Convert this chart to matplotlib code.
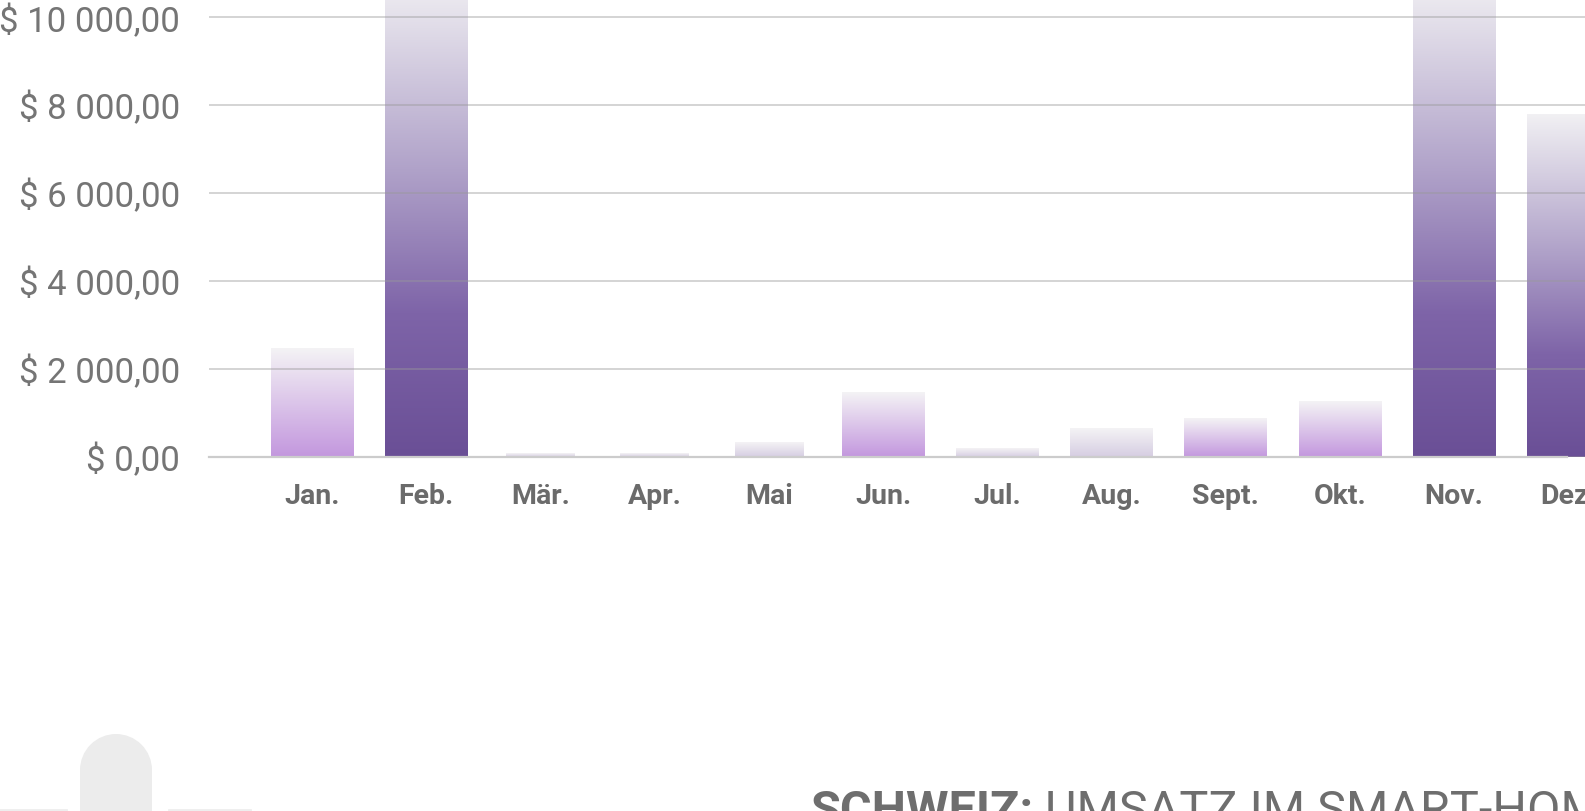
import numpy as np
import matplotlib
matplotlib.use("Agg")
import matplotlib.pyplot as plt
from matplotlib.colors import LinearSegmentedColormap
from matplotlib.patches import Rectangle, Circle

# monthly revenue (Feb / Nov run past the top)
months = ["Jan.", "Feb.", "Mär.", "Apr.", "Mai", "Jun.", "Jul.", "Aug.", "Sept.", "Okt.", "Nov.", "Dez."]
umsatz = [2470, 10900, 70, 70, 330, 1460, 200, 650, 870, 1260, 10850, 7780]
tone = ["mid", "dark", "pale", "pale", "pale", "mid", "pale", "pale", "mid", "mid", "dark", "dark"]
yticks = [0, 2000, 4000, 6000, 8000, 10000]

plt.rcParams['font.family'] = ['Roboto', 'DejaVu Sans']

W, H = 1585, 812
dpi = 100
fig = plt.figure(figsize=(W / dpi, H / dpi), dpi=dpi)

# background layer in pixel coords for the decoration + title
ov = fig.add_axes([0, 0, 1, 1], zorder=-1)
ov.set_xlim(0, W)
ov.set_ylim(H, 0)
ov.axis('off')
ov.add_patch(Rectangle((80, 771), 72, 60, color='#ececec', lw=0))
ov.add_patch(Circle((116, 771), 36, color='#ececec', lw=0))
ov.plot([0, 66], [811, 811], color='#eeeeee', lw=2)
ov.plot([169, 250], [811, 811], color='#eeeeee', lw=2)
t = ov.text(810, 825, "SCHWEIZ:", fontsize=35, fontweight='bold', color='#6e6e6e', va='baseline')
ov.annotate(" UMSATZ IM SMART-HOME", xy=(1, 0), xycoords=t, va='bottom', ha='left',
            fontsize=35, fontweight='normal', color='#6e6e6e')

ax = fig.add_axes([209 / W, (H - 458) / H, (W - 209) / W, 458 / H])
x = np.arange(len(months))
narrow = {"Mär.", "Apr.", "Mai"}
widths = [0.6 if m in narrow else 0.72 for m in months]
bars = ax.bar(x, umsatz, width=widths, color='none', edgecolor='none')

colors = {
    'dark': [(0, '#6a4f96'), (0.3, '#7e64a8'), (0.6, '#b0a2c9'), (1, '#f1f0f3')],
    'mid': [(0, '#c397de'), (1, '#f4f3f5')],
    'pale': [(0, '#d6cde2'), (1, '#f4f3f5')],
}
grad = np.linspace(0, 1, 256).reshape(-1, 1)
for bar, tn in zip(bars, tone):
    cmap = LinearSegmentedColormap.from_list(tn, colors[tn])
    x0 = bar.get_x()
    ax.imshow(grad, extent=(x0, x0 + bar.get_width(), 0, bar.get_height()),
              origin='lower', cmap=cmap, aspect='auto', zorder=1)

ax.set_xlim(-0.902, 11.147)
ax.set_ylim(0, 10410)

ax.set_yticks(yticks)
ax.set_yticklabels(["$ " + f"{v:,.2f}".replace(",", " ").replace(".", ",") for v in yticks])
ax.set_xticks(x)
ax.set_xticklabels(months, fontweight='bold')
ax.tick_params(axis='y', length=0, pad=21, labelsize=25, labelcolor='#757575')
ax.tick_params(axis='x', length=0, pad=18, labelsize=20.5, labelcolor='#6b6b6b')

for s in ax.spines.values():
    s.set_visible(False)
ax.set_axisbelow(False)
ax.yaxis.grid(True, color='#999999', alpha=0.45, lw=1.3)
ax.axhline(0, xmax=1358 / 1376, color='#cccccc', lw=1.6, clip_on=False, zorder=3)

plt.savefig('out.png', dpi=dpi)
